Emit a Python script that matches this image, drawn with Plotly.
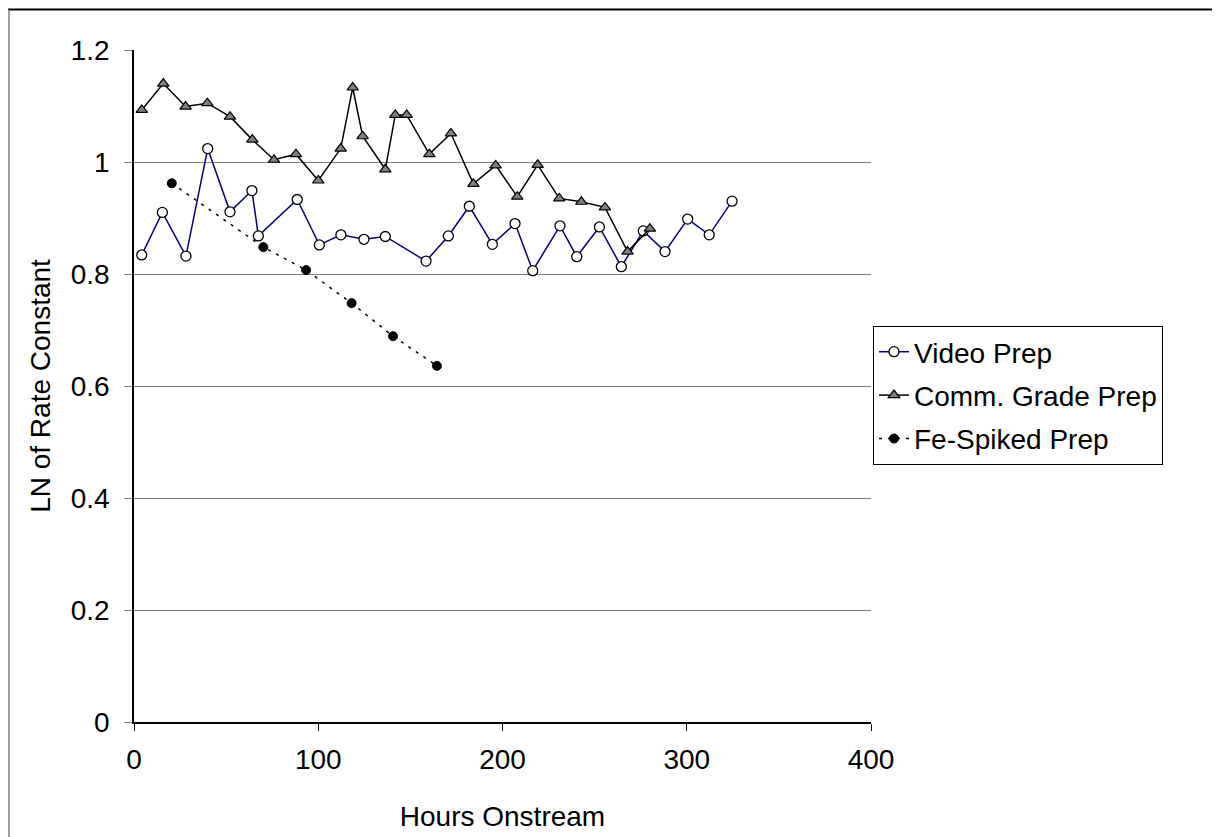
import plotly.graph_objects as go

# Data
video_hours = [4.2, 15.4, 28.2, 40.0, 52.1, 64.0, 67.5, 88.6, 100.6, 112.3, 124.8, 136.4,
               158.5, 170.6, 182.0, 194.5, 206.8, 216.4, 231.2, 240.3, 252.6, 264.5,
               276.4, 288.2, 300.5, 312.2, 324.6]
video_ln = [0.834, 0.910, 0.832, 1.024, 0.911, 0.949, 0.868, 0.933, 0.852, 0.870, 0.862, 0.867,
            0.823, 0.868, 0.921, 0.853, 0.890, 0.806, 0.886, 0.831, 0.884, 0.813,
            0.877, 0.840, 0.898, 0.870, 0.930]

comm_hours = [4.2, 15.9, 28.0, 39.8, 52.1, 64.2, 76.0, 87.9, 100.0, 112.2, 118.7, 124.1,
              136.4, 141.8, 148.0, 160.3, 172.0, 184.2, 196.3, 208.0, 219.1, 230.8,
              242.8, 255.6, 267.9, 280.0]
comm_ln = [1.093, 1.140, 1.099, 1.105, 1.081, 1.040, 1.004, 1.014, 0.967, 1.024, 1.133, 1.046,
           0.987, 1.084, 1.084, 1.014, 1.051, 0.961, 0.994, 0.938, 0.995, 0.935,
           0.929, 0.919, 0.840, 0.881]

fe_hours = [20.5, 70.2, 93.4, 118.1, 140.6, 164.4]
fe_ln = [0.962, 0.848, 0.807, 0.748, 0.689, 0.636]

x_ticks = [0, 100, 200, 300, 400]
y_ticks = [0, 0.2, 0.4, 0.6, 0.8, 1.0, 1.2]
y_tick_labels = ["0", "0.2", "0.4", "0.6", "0.8", "1", "1.2"]

FONT = "Liberation Sans, Arial, sans-serif"
FS = 28

fig = go.Figure()
fig.add_trace(go.Scatter(
    x=video_hours, y=video_ln, mode="lines+markers", name="Video Prep",
    legendgroup="a",
    line=dict(color="#000080", width=1.5),
    marker=dict(symbol="circle", size=10, color="white", line=dict(color="black", width=1.3)),
))
fig.add_trace(go.Scatter(
    x=comm_hours, y=comm_ln, mode="lines+markers", name="Comm. Grade Prep",
    legendgroup="b",
    line=dict(color="black", width=1.5),
    marker=dict(symbol="triangle-up", size=10, color="#808080", line=dict(color="black", width=1.2)),
))
fig.add_trace(go.Scatter(
    x=fe_hours, y=fe_ln, mode="lines+markers", name="Fe-Spiked Prep",
    legendgroup="c",
    line=dict(color="black", width=1.5, dash="3px,6px"),
    marker=dict(symbol="circle", size=9, color="black", line=dict(color="black", width=1)),
))

# page body adds an 8px offset; work in page pixels and subtract it
OFF = 8
W, H = 1220 - OFF, 837 - OFF
L, R, T, B = 134 - OFF, 871 - OFF, 50 - OFF, 722 - OFF
pw, ph = R - L, B - T

def px_x(px):
    return (px - OFF - L) / pw

def px_y(py):
    return (B - (py - OFF)) / ph

fig.update_layout(
    width=W, height=H,
    margin=dict(l=L, r=W - R, t=T, b=H - B, autoexpand=False),
    paper_bgcolor="white", plot_bgcolor="white",
    font=dict(family=FONT, size=FS, color="black"),
    showlegend=True,
    legend=dict(
        x=px_x(873), y=px_y(326), xanchor="left", yanchor="top",
        bordercolor="black", borderwidth=1, bgcolor="white",
        font=dict(family=FONT, size=FS, color="black"),
        tracegroupgap=4, itemwidth=30,
    ),
    xaxis=dict(
        range=[0, 400], tickvals=x_ticks, ticktext=[str(v) for v in x_ticks],
        showgrid=False, zeroline=False,
        showline=True, linecolor="black", linewidth=1.5,
        ticks="outside", ticklen=7, tickcolor="black", tickwidth=1,
        ticklabelstandoff=5,
        tickfont=dict(family=FONT, size=FS),
        title=dict(text="Hours Onstream", font=dict(family=FONT, size=FS), standoff=32),
        automargin=False,
    ),
    yaxis=dict(
        range=[0, 1.2], tickvals=y_ticks, ticktext=y_tick_labels,
        showgrid=True, gridcolor="#808080", gridwidth=1,
        zeroline=False,
        showline=True, linecolor="black", linewidth=1.5,
        ticks="outside", ticklen=8, tickcolor="#808080", tickwidth=1,
        ticklabelstandoff=9,
        tickfont=dict(family=FONT, size=FS),
        title=dict(text="LN of Rate Constant", font=dict(family=FONT, size=FS), standoff=12),
        automargin=False,
    ),
    shapes=[
        dict(type="line", xref="paper", yref="paper",
             x0=px_x(8), x1=px_x(1240),
             y0=px_y(9.5), y1=px_y(9.5),
             line=dict(color="black", width=2)),
        dict(type="line", xref="paper", yref="paper",
             x0=px_x(9), x1=px_x(9),
             y0=px_y(9.5), y1=px_y(860),
             line=dict(color="#808080", width=1.5)),
    ],
)

fig.write_html("out.html")
